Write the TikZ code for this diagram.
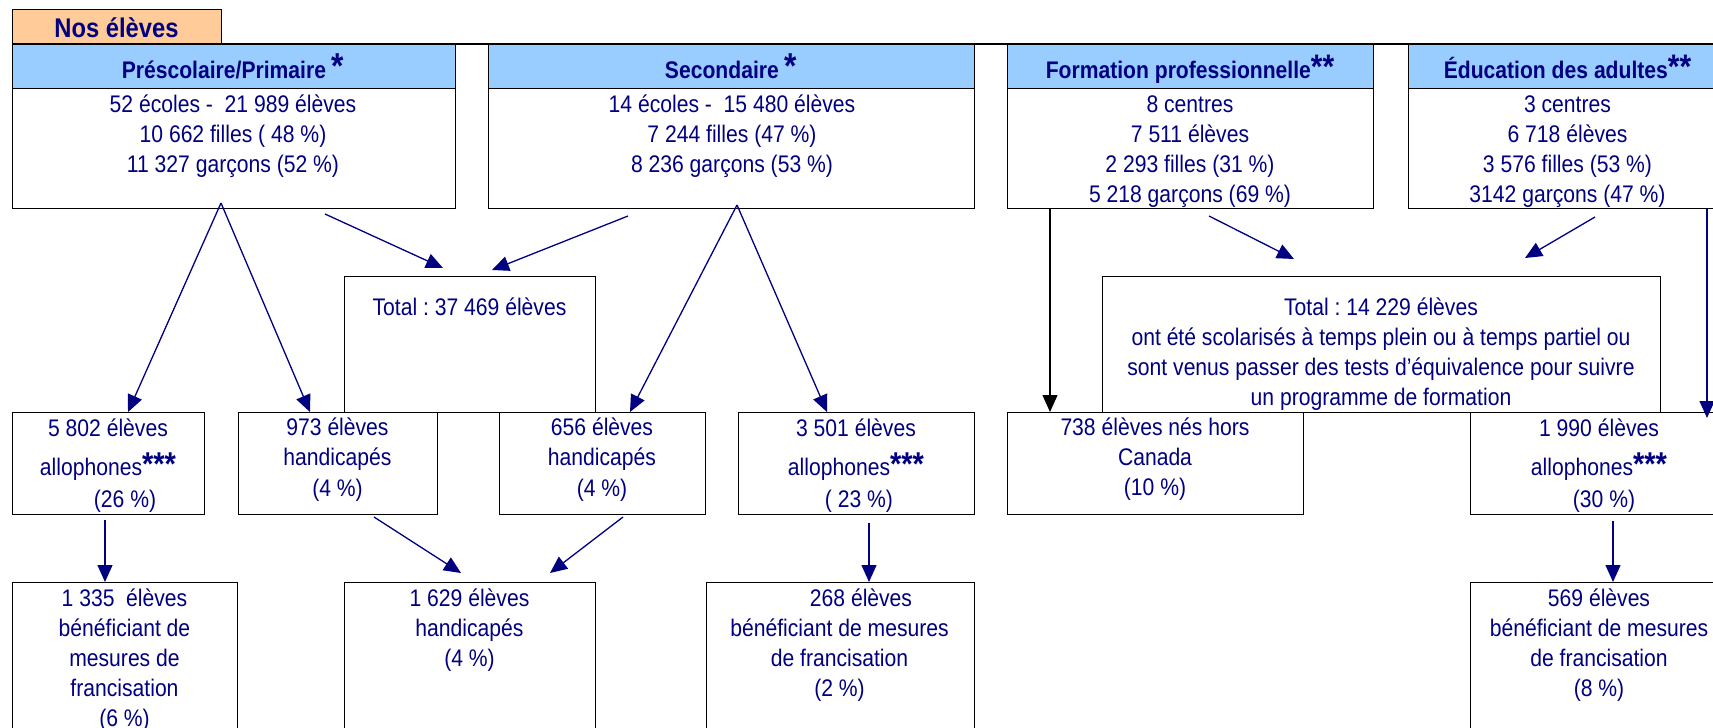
\documentclass[tikz,border=0pt]{standalone}
\usepackage{fontspec}
\setmainfont{Liberation Sans}[FakeStretch=0.88]
\usetikzlibrary{arrows.meta}
\definecolor{navy}{HTML}{000080}
\definecolor{hdr}{HTML}{99CCFF}
\definecolor{nosfill}{HTML}{FFCC99}
\frenchspacing
\newcommand\hstar{{\fontsize{36}{36}\selectfont\bfseries *}}
\newcommand\hstars{{\fontsize{34}{34}\selectfont\bfseries **}}
\newcommand\sstar{{\fontsize{33}{33}\selectfont\bfseries ***}}
\begin{document}
\begin{tikzpicture}[x=1pt,y=-1pt,
  box/.style={draw=black, line width=1.4pt, inner sep=0pt, anchor=north west},
  txt/.style={text=navy, inner sep=0pt, anchor=base, font=\fontsize{24}{30}\selectfont},
  hd/.style={txt, font=\fontsize{24}{30}\selectfont\bfseries},
  arr/.style={draw=navy, line width=1.3pt, -{Triangle[width=15pt,length=17pt]}},
  blk/.style={draw=black, line width=1.2pt, -{Triangle[width=15pt,length=17pt]}},
  ]
\useasboundingbox (0,0) rectangle (1713,728);
\clip (0,0) rectangle (1713,728);

% title
\node[box, fill=nosfill, minimum width=209pt, minimum height=35pt] (nos) at (12,9) {};
\node[hd, font=\fontsize{27}{30}\selectfont\bfseries] (tnos) at (116.5,37) {Nos élèves};

% top boxes: headers and bodies
\node[box, fill=hdr, minimum width=443pt, minimum height=44pt] (primH) at (12,44) {};
\node[box, minimum width=443pt, minimum height=120pt] (prim) at (12,88) {};
\node[box, fill=hdr, minimum width=486pt, minimum height=44pt] (secH) at (488,44) {};
\node[box, minimum width=486pt, minimum height=120pt] (sec) at (488,88) {};
\node[box, fill=hdr, minimum width=366pt, minimum height=44pt] (formH) at (1007,44) {};
\node[box, minimum width=366pt, minimum height=120pt] (form) at (1007,88) {};
\node[box, fill=hdr, minimum width=320pt, minimum height=44pt] (eduH) at (1408,44) {};
\node[box, minimum width=320pt, minimum height=120pt] (edu) at (1408,88) {};
\draw[line width=1.4pt] (primH.north west) -- (eduH.north east);

% totals
\node[box, minimum width=251pt, minimum height=136pt] (tot1) at (344,276) {};
\node[box, minimum width=558pt, minimum height=136pt] (tot2) at (1102,276) {};

% second row
\node[box, minimum width=192pt, minimum height=102pt] (a5802) at (12,412) {};
\node[box, minimum width=199pt, minimum height=102pt] (h973) at (238,412) {};
\node[box, minimum width=206pt, minimum height=102pt] (h656) at (499,412) {};
\node[box, minimum width=236pt, minimum height=102pt] (a3501) at (738,412) {};
\node[box, minimum width=296pt, minimum height=102pt] (n738) at (1007,412) {};
\node[box, minimum width=258pt, minimum height=102pt] (a1990) at (1470,412) {};

% third row
\node[box, minimum width=225pt, minimum height=160pt] (f1335) at (12,582) {};
\node[box, minimum width=251pt, minimum height=160pt] (h1629) at (344,582) {};
\node[box, minimum width=268pt, minimum height=160pt] (f268) at (706,582) {};
\node[box, minimum width=258pt, minimum height=160pt] (f569) at (1470,582) {};

% header texts
\node[hd] (tprimH) at (233,78) {Préscolaire/Primaire \hstar};
\node[hd] (tsecH) at (731,78) {Secondaire \hstar};
\node[hd] (tformH) at (1190,78) {Formation professionnelle\hstars};
\node[hd] (teduH) at (1567.5,78) {Éducation des adultes\hstars};

% top body texts
\node[txt] (tp1) at (233,112) {52 écoles -\ \ 21 989 élèves};
\node[txt] (tp2) at (233,142) {10 662 filles ( 48 \%)};
\node[txt] (tp3) at (233,172) {11 327 garçons (52 \%)};
\node[txt] (ts1) at (732,112) {14 écoles -\ \ 15 480 élèves};
\node[txt] (ts2) at (732,142) {7 244 filles (47 \%)};
\node[txt] (ts3) at (732,172) {8 236 garçons (53 \%)};
\node[txt] (tf1) at (1190,112) {8 centres};
\node[txt] (tf2) at (1190,142) {7 511 élèves};
\node[txt] (tf3) at (1190,172) {2 293 filles (31 \%)};
\node[txt] (tf4) at (1190,202) {5 218 garçons (69 \%)};
\node[txt] (te1) at (1567.5,112) {3 centres};
\node[txt] (te2) at (1567.5,142) {6 718 élèves};
\node[txt] (te3) at (1567.5,172) {3 576 filles (53 \%)};
\node[txt] (te4) at (1567.5,202) {3142 garçons (47 \%)};

% totals texts
\node[txt] (tt1) at (469.5,315) {Total : 37 469 élèves};
\node[txt] (tt2a) at (1381,315) {Total : 14 229 élèves};
\node[txt] (tt2b) at (1381,345) {ont été scolarisés à temps plein ou à temps partiel ou};
\node[txt] (tt2c) at (1381,375) {sont venus passer des tests d’équivalence pour suivre};
\node[txt] (tt2d) at (1381,405) {un programme de formation};

% second row texts
\node[txt] (r1a) at (108,436) {5 802 élèves};
\node[txt] (r1b) at (108,475) {allophones\sstar};
\node[txt] (r1c) at (125,507) {(26 \%)};
\node[txt] (r2a) at (337.5,435) {973 élèves};
\node[txt] (r2b) at (337.5,465) {handicapés};
\node[txt] (r2c) at (337.5,496) {(4 \%)};
\node[txt] (r3a) at (602,435) {656 élèves};
\node[txt] (r3b) at (602,465) {handicapés};
\node[txt] (r3c) at (602,496) {(4 \%)};
\node[txt] (r4a) at (856,436) {3 501 élèves};
\node[txt] (r4b) at (856,475) {allophones\sstar};
\node[txt] (r4c) at (859,507) {( 23 \%)};
\node[txt] (r5a) at (1155,435) {738 élèves nés hors};
\node[txt] (r5b) at (1155,465) {Canada};
\node[txt] (r5c) at (1155,495) {(10 \%)};
\node[txt] (r6a) at (1599,436) {1 990 élèves};
\node[txt] (r6b) at (1599,475) {allophones\sstar};
\node[txt] (r6c) at (1604,507) {(30 \%)};

% third row texts
\node[txt] (q1a) at (124.5,606) {1 335\ \ élèves};
\node[txt] (q1b) at (124.5,636) {bénéficiant de};
\node[txt] (q1c) at (124.5,666) {mesures de};
\node[txt] (q1d) at (124.5,696) {francisation};
\node[txt] (q1e) at (124.5,726) {(6 \%)};
\node[txt] (q2a) at (469.5,606) {1 629 élèves};
\node[txt] (q2b) at (469.5,636) {handicapés};
\node[txt] (q2c) at (469.5,666) {(4 \%)};
\node[txt] (q3a) at (861,606) {268 élèves};
\node[txt] (q3b) at (839.5,636) {bénéficiant de mesures};
\node[txt] (q3c) at (839.5,666) {de francisation};
\node[txt] (q3d) at (839.5,696) {(2 \%)};
\node[txt] (q4a) at (1599,606) {569 élèves};
\node[txt] (q4b) at (1599,636) {bénéficiant de mesures};
\node[txt] (q4c) at (1599,666) {de francisation};
\node[txt] (q4d) at (1599,696) {(8 \%)};

% connectors
\coordinate (pApex) at (221,203);
\coordinate (sApex) at (737,205);
\draw[arr] (pApex) -- (128,0 |- a5802.north);
\draw[arr] (pApex) -- (310,0 |- h973.north);
\draw[arr] (sApex) -- (630,0 |- h656.north);
\draw[arr] (sApex) -- (827,0 |- a3501.north);
\coordinate (pOut) at (325,214);
\coordinate (sOut) at (628,216);
\draw[arr] (pOut) -- (443,268);
\draw[arr] (sOut) -- (492,270);
\draw[blk] (1050,0 |- form.south) -- (1050,0 |- n738.north);
\coordinate (fOut) at (1209,216);
\coordinate (eOut) at (1595,217);
\draw[arr] (fOut) -- (1294,259);
\draw[arr] (eOut) -- (1525,258);
\draw[arr] (1707,0 |- edu.south) -- (1707,418);
\draw[arr] (105,0 |- a5802.south) ++(0,5) -- (105,0 |- f1335.north);
\draw[arr] (374,517) -- (461,573);
\draw[arr] (623,517) -- (550,573);
\draw[arr] (869,523) -- (869,0 |- f268.north);
\draw[arr] (1613,521) -- (1613,0 |- f569.north);
\end{tikzpicture}
\end{document}
